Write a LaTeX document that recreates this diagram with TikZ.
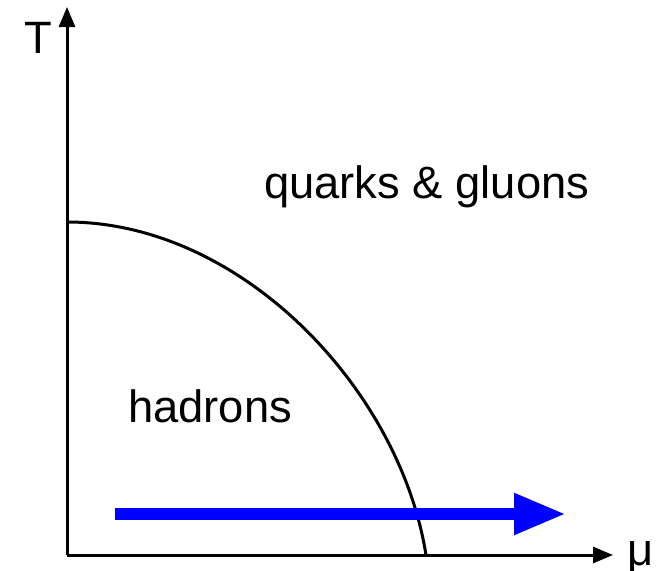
\documentclass[tikz,border=0pt]{standalone}
\usepackage{fontspec}
\setmainfont{Liberation Sans}
\usetikzlibrary{arrows.meta}

\begin{document}
\begin{tikzpicture}[x=0.75pt,y=-0.75pt,
  axis/.style={line width=2.25pt,-{Triangle[length=15pt,width=12pt]}},
  lbl/.style={anchor=base west,inner sep=0pt,font=\fontsize{34}{40}\selectfont}]
\useasboundingbox (0,0) rectangle (658,571);
\coordinate (origin) at (67,555);
\coordinate (Ttop) at (67,7);
\coordinate (muend) at (613,555);
\coordinate (Tc) at (67,222);
\coordinate (muc) at (426,555);
\coordinate (flowstart) at (115,514);
\coordinate (flowend) at (566,514);
\draw[axis] (origin) -- (Ttop);
\draw[axis] (origin) -- (muend);
\draw[line width=2.25pt] (Tc) .. controls (242,222) and (400,390) .. (muc);
\draw[blue,line width=9pt,-{Triangle[length=39pt,width=29pt]}] (flowstart) -- (flowend);
\node[lbl] (T) at (24,53) {T};
\node[lbl] (mu) at (627,565) {μ};
\node[lbl] (qgp) at (264,198) {quarks \& gluons};
\node[lbl] (had) at (128,422) {hadrons};
\end{tikzpicture}
\end{document}
